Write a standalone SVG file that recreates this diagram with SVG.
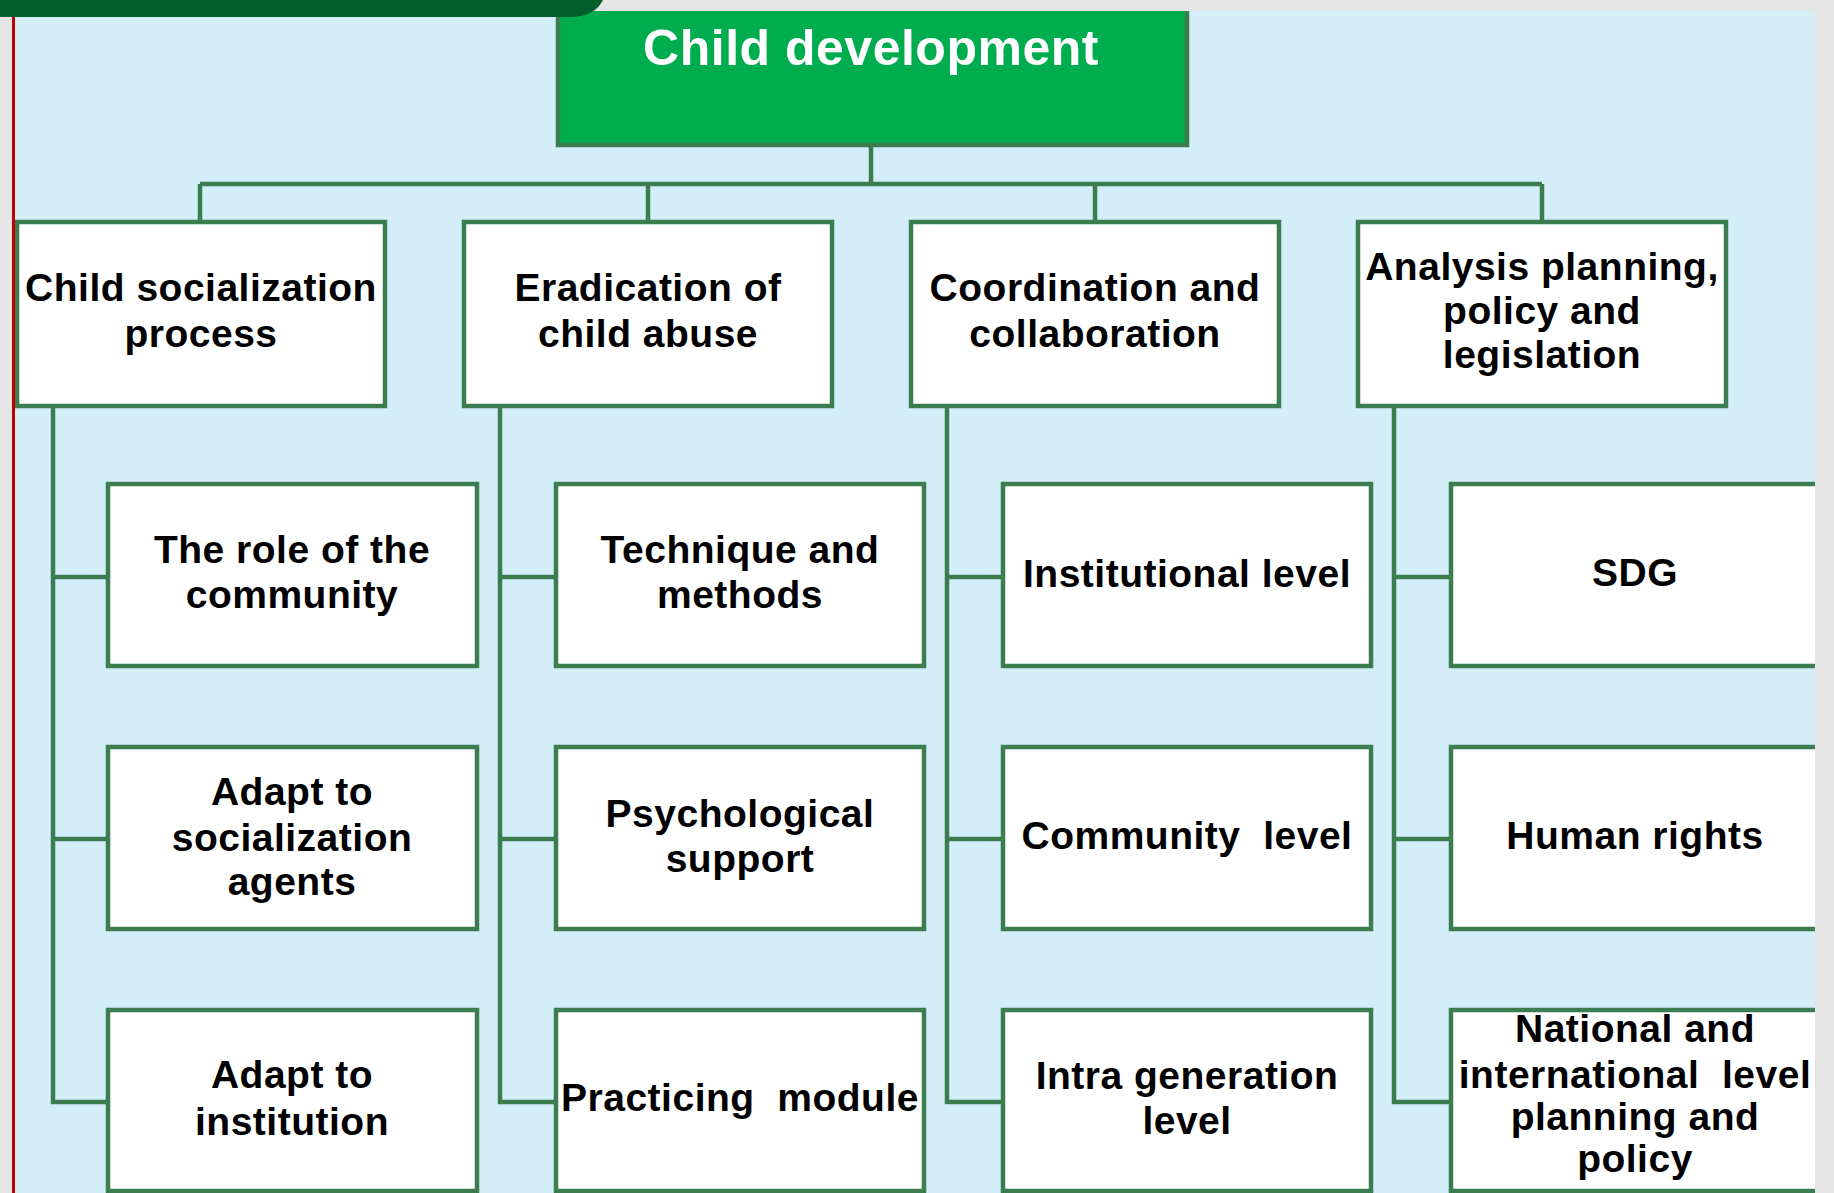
<svg xmlns="http://www.w3.org/2000/svg" width="1834" height="1193" viewBox="0 0 1834 1193">
<style>
.box{fill:#ffffff;stroke:#3b7d4f;stroke-width:4.5}
.root{fill:#00ad4e;stroke:#3b7d4f;stroke-width:4.5}
.con{fill:none;stroke:#3b7d4f;stroke-width:4.5;stroke-linejoin:miter}
.t{font-family:"Liberation Sans",Arial,sans-serif;font-weight:bold;font-size:39px;fill:#000;text-anchor:middle;letter-spacing:0.5px}
.rt{font-family:"Liberation Sans",Arial,sans-serif;font-weight:bold;font-size:50px;fill:#ffffff;text-anchor:middle;letter-spacing:0.5px}
</style>
<rect x="0" y="0" width="1834" height="1193" fill="#e5e5e5"/>
<rect x="15" y="11" width="1800" height="1182" fill="#d3eef9"/>

<g id="connectors">
<path class="con" d="M871 145 V184 M200 184 H1542 M200 184 V222 M648 184 V222 M1095 184 V222 M1542 184 V222"/>
<path class="con" d="M53 406 V1102 H108 M53 577 H108 M53 839 H108"/>
<path class="con" d="M500 406 V1102 H556 M500 577 H556 M500 839 H556"/>
<path class="con" d="M947 406 V1102 H1003 M947 577 H1003 M947 839 H1003"/>
<path class="con" d="M1394 406 V1102 H1451 M1394 577 H1451 M1394 839 H1451"/>
</g>

<g id="root">
<rect class="root" x="558" y="-10" width="629" height="155"/>
<text class="rt" x="871" y="65">Child development</text>
</g>

<g id="n1">
<rect class="box" x="17" y="222" width="368" height="184"/>
<text class="t" x="201" y="301">Child socialization</text>
<text class="t" x="201" y="347">process</text>
</g>
<g id="n2">
<rect class="box" x="464" y="222" width="368" height="184"/>
<text class="t" x="648" y="301">Eradication of</text>
<text class="t" x="648" y="347">child abuse</text>
</g>
<g id="n3">
<rect class="box" x="911" y="222" width="368" height="184"/>
<text class="t" x="1095" y="301">Coordination and</text>
<text class="t" x="1095" y="347">collaboration</text>
</g>
<g id="n4">
<rect class="box" x="1358" y="222" width="368" height="184"/>
<text class="t" x="1542" y="280">Analysis planning,</text>
<text class="t" x="1542" y="324">policy and</text>
<text class="t" x="1542" y="368">legislation</text>
</g>

<g id="n1a">
<rect class="box" x="108" y="484" width="369" height="182"/>
<text class="t" x="292" y="563">The role of the</text>
<text class="t" x="292" y="608">community</text>
</g>
<g id="n1b">
<rect class="box" x="108" y="747" width="369" height="182"/>
<text class="t" x="292" y="805">Adapt to</text>
<text class="t" x="292" y="851">socialization</text>
<text class="t" x="292" y="895">agents</text>
</g>
<g id="n1c">
<rect class="box" x="108" y="1010" width="369" height="181"/>
<text class="t" x="292" y="1088">Adapt to</text>
<text class="t" x="292" y="1135">institution</text>
</g>

<g id="n2a">
<rect class="box" x="556" y="484" width="368" height="182"/>
<text class="t" x="740" y="563">Technique and</text>
<text class="t" x="740" y="608">methods</text>
</g>
<g id="n2b">
<rect class="box" x="556" y="747" width="368" height="182"/>
<text class="t" x="740" y="827">Psychological</text>
<text class="t" x="740" y="872">support</text>
</g>
<g id="n2c">
<rect class="box" x="556" y="1010" width="368" height="181"/>
<text class="t" x="740" y="1111" xml:space="preserve">Practicing  module</text>
</g>

<g id="n3a">
<rect class="box" x="1003" y="484" width="368" height="182"/>
<text class="t" x="1187" y="587">Institutional level</text>
</g>
<g id="n3b">
<rect class="box" x="1003" y="747" width="368" height="182"/>
<text class="t" x="1187" y="849" xml:space="preserve">Community  level</text>
</g>
<g id="n3c">
<rect class="box" x="1003" y="1010" width="368" height="181"/>
<text class="t" x="1187" y="1089">Intra generation</text>
<text class="t" x="1187" y="1134">level</text>
</g>

<g id="n4a">
<rect class="box" x="1451" y="484" width="369" height="182"/>
<text class="t" x="1635" y="586">SDG</text>
</g>
<g id="n4b">
<rect class="box" x="1451" y="747" width="369" height="182"/>
<text class="t" x="1635" y="849">Human rights</text>
</g>
<g id="n4c">
<rect class="box" x="1451" y="1010" width="369" height="181"/>
<text class="t" x="1635" y="1042">National and</text>
<text class="t" x="1635" y="1088" xml:space="preserve">international  level</text>
<text class="t" x="1635" y="1130">planning and</text>
<text class="t" x="1635" y="1172">policy</text>
</g>

<rect x="0" y="0" width="1834" height="11" fill="#e5e5e5"/>
<rect x="1815" y="0" width="19" height="1193" fill="#e5e5e5"/>
<rect x="0" y="0" width="12" height="1193" fill="#e5e5e5"/>
<rect x="12" y="11" width="3" height="1182" fill="#c00000"/>
<path d="M0 0 H603 C598 10 588 17 570 17 H0 Z" fill="#005f2a"/>
</svg>
